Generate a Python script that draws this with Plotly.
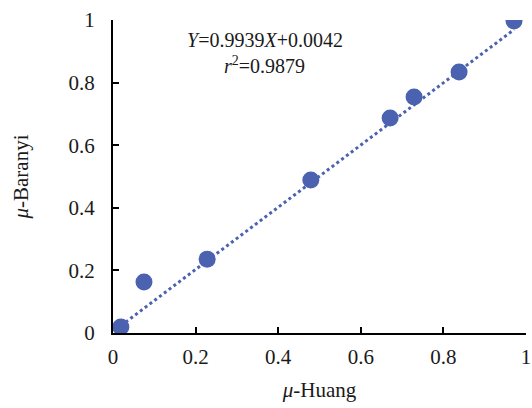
import plotly.graph_objects as go

huang = [0.019, 0.075, 0.228, 0.479, 0.671, 0.729, 0.838, 0.971]
baranyi = [0.019, 0.163, 0.236, 0.489, 0.687, 0.754, 0.834, 0.997]
slope, intercept = 0.9939, 0.0042
tick_vals = [0, 0.2, 0.4, 0.6, 0.8, 1]
tick_text = ["0", "0.2", "0.4", "0.6", "0.8", "1"]

color = "#4A62AF"
font = "Liberation Serif, Times New Roman, serif"
tcol = "#1a1a1a"

fx = [min(huang), max(huang)]
fy = [slope * v + intercept for v in fx]

fig = go.Figure()
fig.add_trace(go.Scatter(x=fx, y=fy, mode="lines",
                         line=dict(color=color, width=3, dash="dot"),
                         hoverinfo="skip", showlegend=False))
fig.add_trace(go.Scatter(x=huang, y=baranyi, mode="markers",
                         marker=dict(color=color, size=17),
                         showlegend=False))

axis_common = dict(range=[0, 1], tickvals=tick_vals, ticktext=tick_text,
                   showgrid=False, zeroline=False, showline=True,
                   linecolor="black", linewidth=2, ticks="inside",
                   ticklen=6, tickwidth=1.5, tickcolor="black",
                   automargin=False,
                   tickfont=dict(family=font, size=21, color=tcol))

fig.update_xaxes(**axis_common, ticklabelstandoff=4,
                 title=dict(text="<i>μ</i>-Huang",
                            font=dict(family=font, size=21, color=tcol),
                            standoff=14))
fig.update_yaxes(**axis_common, ticklabelstandoff=12,
                 title=dict(text="<i>μ</i>-Baranyi",
                            font=dict(family=font, size=21, color=tcol),
                            standoff=34))

fig.add_annotation(x=0.368, y=0.936, xref="x", yref="y", showarrow=False,
                   text="<i>Y</i>=0.9939<i>X</i>+0.0042",
                   font=dict(family=font, size=20, color=tcol))
fig.add_annotation(x=0.368, y=0.856, xref="x", yref="y", showarrow=False,
                   text="<i>r</i><sup>2</sup>=0.9879",
                   font=dict(family=font, size=20, color=tcol))

fig.update_layout(width=532, height=408,
                  margin=dict(l=113, r=6, t=20, b=75),
                  plot_bgcolor="white", paper_bgcolor="white")
fig.write_html("out.html")
